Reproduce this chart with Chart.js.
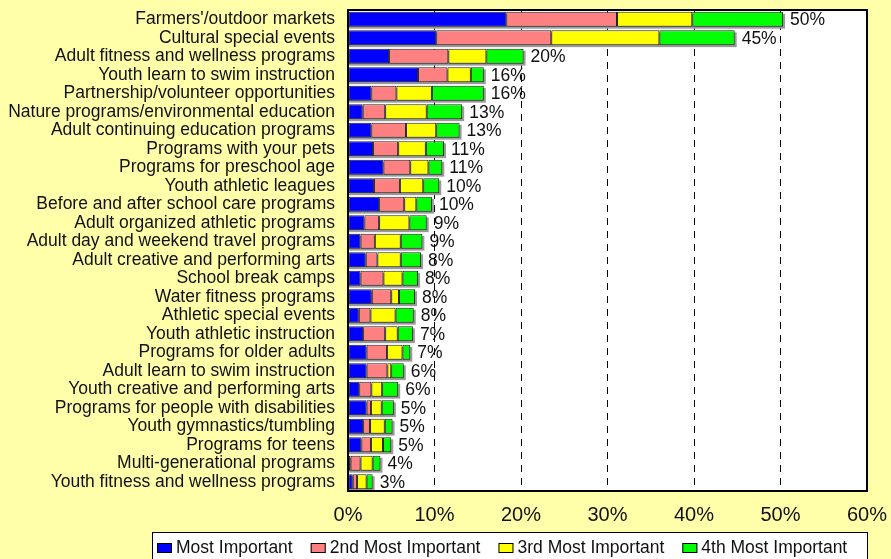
<!DOCTYPE html>
<html>
<head>
<meta charset="utf-8">
<script src="https://cdn.jsdelivr.net/npm/chart.js@4.4.1/dist/chart.umd.min.js"></script>
<style>
  html, body { margin: 0; padding: 0; background: #ffffaa; }
  #chart { display: block; }
</style>
</head>
<body>
<canvas id="chart" width="891" height="559"></canvas>
<script>
// ---- data (in %) ----
const categories = [
  "Farmers'/outdoor markets",
  'Cultural special events',
  'Adult fitness and wellness programs',
  'Youth learn to swim instruction',
  'Partnership/volunteer opportunities',
  'Nature programs/environmental education',
  'Adult continuing education programs',
  'Programs with your pets',
  'Programs for preschool age',
  'Youth athletic leagues',
  'Before and after school care programs',
  'Adult organized athletic programs',
  'Adult day and weekend travel programs',
  'Adult creative and performing arts',
  'School break camps',
  'Water fitness programs',
  'Athletic special events',
  'Youth athletic instruction',
  'Programs for older adults',
  'Adult learn to swim instruction',
  'Youth creative and performing arts',
  'Programs for people with disabilities',
  'Youth gymnastics/tumbling',
  'Programs for teens',
  'Multi-generational programs',
  'Youth fitness and wellness programs'
];

const mostImportant   = [18.3, 10.2, 4.75, 8.1, 2.7, 1.7, 2.7, 2.9, 4.1, 3.0, 3.6, 1.9, 1.45, 2.05, 1.45, 2.75, 1.25, 1.75, 2.15, 2.15, 1.3, 2.15, 1.75, 1.55, 0.3, 0.55];
const secondImportant = [12.8, 13.3, 6.85, 3.4, 2.9, 2.6, 4.0, 2.9, 3.1, 3.0, 2.9, 1.7, 1.65, 1.35, 2.65, 2.25, 1.35, 2.55, 2.35, 2.4, 1.4, 0.5, 0.8, 1.1, 1.15, 0.5];
const thirdImportant  = [8.7, 12.5, 4.4, 2.7, 4.1, 4.8, 3.5, 3.2, 2.1, 2.7, 1.4, 3.5, 3.0, 2.7, 2.2, 0.9, 2.9, 1.45, 1.8, 0.45, 1.25, 1.25, 1.7, 1.4, 1.4, 1.1];
const fourthImportant = [10.5, 8.7, 4.3, 1.5, 6.0, 4.1, 2.7, 2.1, 1.6, 1.85, 1.8, 2.0, 2.5, 2.35, 1.8, 1.85, 2.1, 1.75, 0.9, 1.45, 1.85, 1.4, 0.9, 0.95, 0.9, 0.7];

const totalLabels = ['50%', '45%', '20%', '16%', '16%', '13%', '13%', '11%', '11%', '10%', '10%', '9%', '9%', '8%', '8%', '8%', '8%', '7%', '7%', '6%', '6%', '5%', '5%', '5%', '4%', '3%'];
const seriesNames = ['Most Important', '2nd Most Important', '3rd Most Important', '4th Most Important'];
const xTicks = [0, 10, 20, 30, 40, 50, 60];

// ---- styling ----
const FONT = "'Liberation Sans', Arial, sans-serif";
const BG_YELLOW = '#ffffaa';
const seriesColors = ['#0000ff', '#ff8080', '#ffff00', '#00ff00'];

// background + white plot area
const backdrop = {
  id: 'backdrop',
  beforeDraw(chart) {
    const { ctx, chartArea: a } = chart;
    ctx.save();
    ctx.fillStyle = BG_YELLOW;
    ctx.fillRect(0, 0, chart.width, chart.height);
    ctx.fillStyle = '#ffffff';
    ctx.fillRect(a.left, a.top, a.right - a.left, a.bottom - a.top);
    ctx.restore();
  }
};

// small grey drop shadow behind every stacked bar
const barShadow = {
  id: 'barShadow',
  beforeDatasetsDraw(chart) {
    const { ctx, chartArea: a } = chart;
    const last = chart.getDatasetMeta(chart.data.datasets.length - 1);
    ctx.save();
    ctx.fillStyle = '#9a9a9a';
    last.data.forEach(el => {
      const top = el.y - el.height / 2;
      ctx.fillRect(a.left + 1, top + 2, el.x - a.left + 1, el.height);
    });
    ctx.restore();
  }
};

// plot frame + total labels at the end of each bar
const totals = {
  id: 'totals',
  afterDatasetsDraw(chart) {
    const { ctx, chartArea: a } = chart;
    ctx.save();
    ctx.strokeStyle = '#000';
    ctx.lineWidth = 2;
    ctx.strokeRect(a.left, a.top, a.right - a.left, a.bottom - a.top);

    const last = chart.getDatasetMeta(chart.data.datasets.length - 1);
    ctx.fillStyle = '#111';
    ctx.font = `17.5px ${FONT}`;
    ctx.textAlign = 'left';
    ctx.textBaseline = 'middle';
    last.data.forEach((el, i) => {
      ctx.fillText(totalLabels[i], el.x + 7, el.y + 1);
    });
    ctx.restore();
  }
};

// boxed legend under the axis
const boxLegend = {
  id: 'boxLegend',
  afterDraw(chart) {
    const { ctx, chartArea: a } = chart;
    const left = 152, top = a.bottom + 41;
    ctx.save();
    ctx.fillStyle = '#ffffff';
    ctx.fillRect(left, top, a.right - left, chart.height - top + 5);
    ctx.strokeStyle = '#000';
    ctx.lineWidth = 1;
    ctx.strokeRect(left + 0.5, top + 0.5, a.right - left, chart.height - top + 5);

    ctx.font = `17.5px ${FONT}`;
    ctx.textAlign = 'left';
    ctx.textBaseline = 'middle';
    const cy = top + 16;
    let x = left + 5;
    chart.data.datasets.forEach(ds => {
      ctx.fillStyle = ds.backgroundColor;
      ctx.fillRect(x, cy - 5, 15, 10);
      ctx.strokeStyle = '#000';
      ctx.strokeRect(x + 0.5, cy - 4.5, 14, 9);
      ctx.fillStyle = '#111';
      ctx.fillText(ds.label, x + 19, cy);
      x += 19 + ctx.measureText(ds.label).width + 18;
    });
    ctx.restore();
  }
};

const seriesData = [mostImportant, secondImportant, thirdImportant, fourthImportant];

new Chart(document.getElementById('chart'), {
  type: 'bar',
  data: {
    labels: categories,
    datasets: seriesNames.map((name, i) => ({
      label: name,
      data: seriesData[i],
      backgroundColor: seriesColors[i],
      borderColor: '#222',
      borderWidth: 1,
      borderSkipped: false,
      categoryPercentage: 1,
      barPercentage: 0.8
    }))
  },
  options: {
    indexAxis: 'y',
    responsive: false,
    animation: false,
    layout: { padding: { left: 0, top: 10, right: 24, bottom: 0 } },
    plugins: {
      legend: { display: false },
      tooltip: { enabled: false }
    },
    scales: {
      x: {
        stacked: true,
        min: 0,
        max: 60,
        afterBuildTicks: s => { s.ticks = xTicks.map(v => ({ value: v })); },
        afterFit: s => { s.height = 68; s.paddingLeft = 0; s.paddingRight = 0; },
        ticks: {
          padding: 12,
          color: '#111',
          font: { family: FONT, size: 20 },
          callback: v => v + '%'
        },
        grid: {
          drawTicks: false,
          lineWidth: 1,
          color: c => (c.tick && (c.tick.value === 0 || c.tick.value === 60)) ? 'rgba(0,0,0,0)' : '#000'
        },
        border: { display: false, dash: [7, 6] }
      },
      y: {
        stacked: true,
        afterFit: s => { s.width = 348; s.paddingTop = 0; s.paddingBottom = 0; },
        ticks: {
          autoSkip: false,
          padding: 13,
          color: '#111',
          font: { family: FONT, size: 17.5 }
        },
        grid: { display: false, drawTicks: false },
        border: { display: false }
      }
    }
  },
  plugins: [backdrop, barShadow, totals, boxLegend]
});
</script>
</body>
</html>
